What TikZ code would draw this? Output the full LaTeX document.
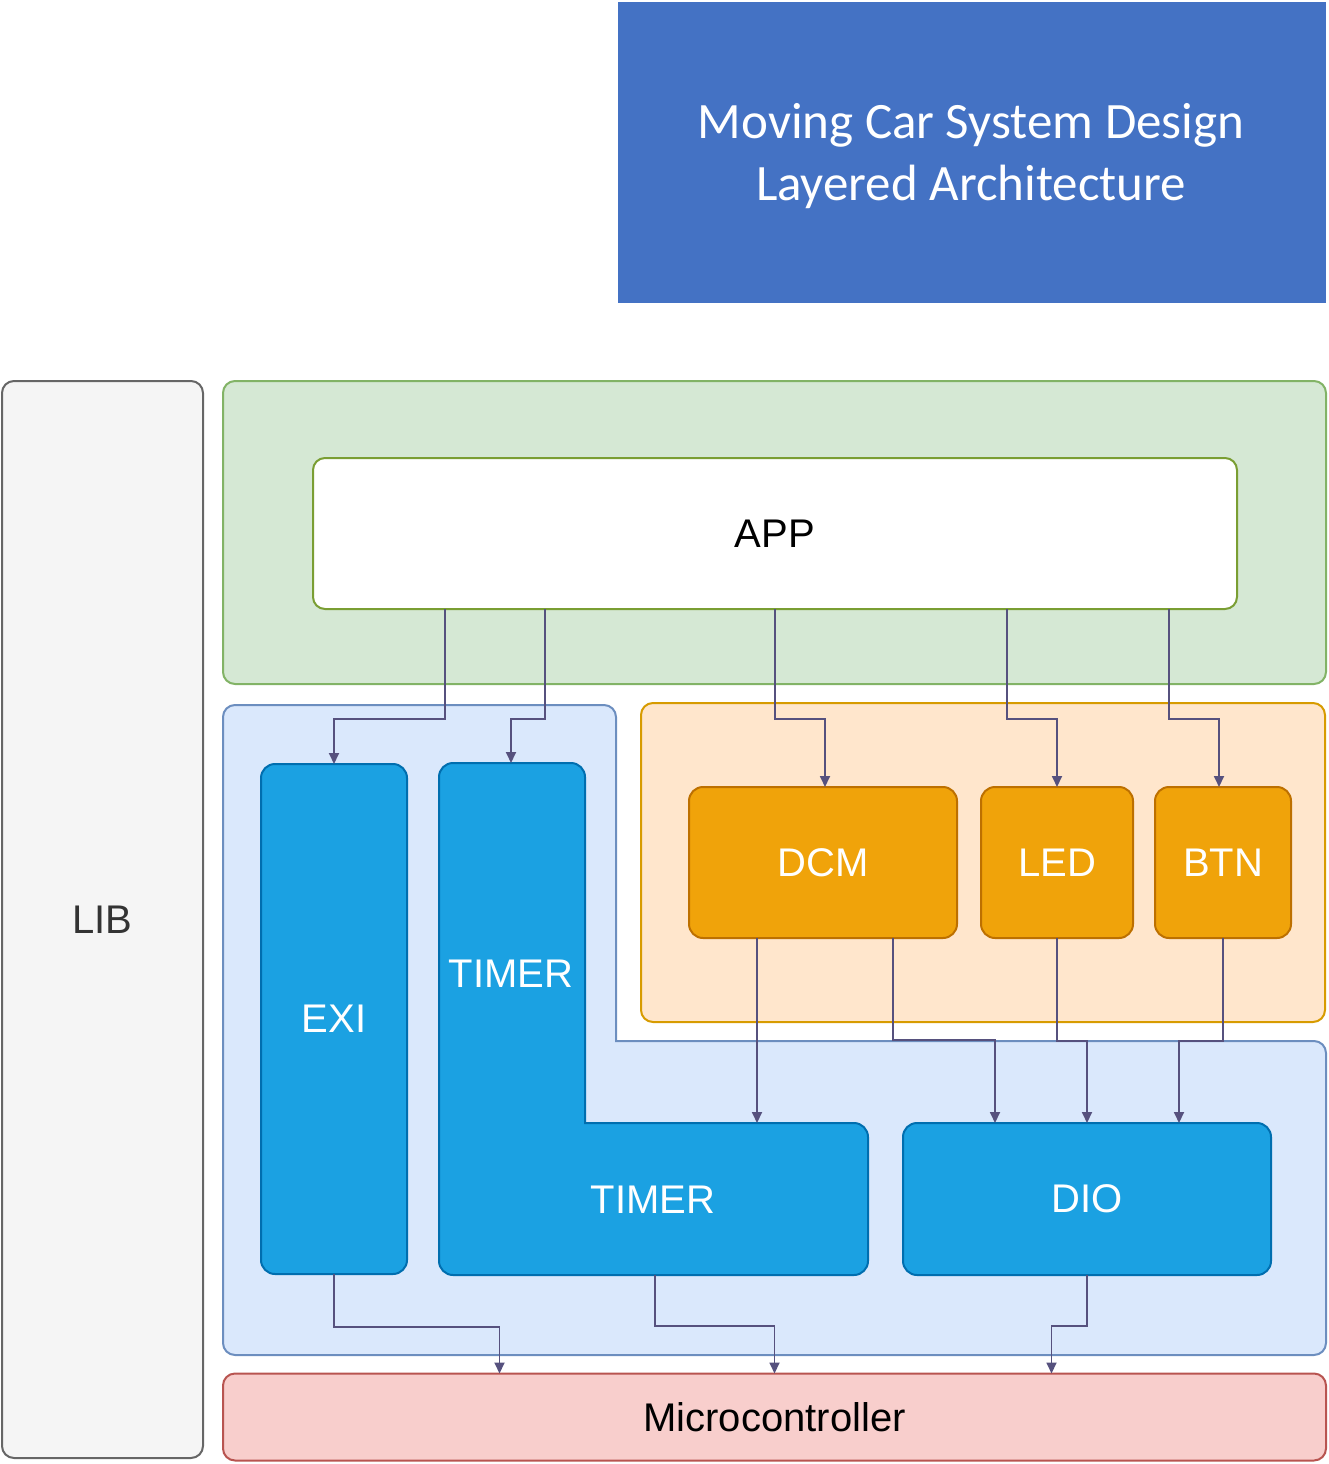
\documentclass[tikz,border=0pt]{standalone}
\usepackage{fontspec}
\setmainfont{Liberation Sans}
\newfontfamily\titlefont{Carlito}
\usetikzlibrary{arrows.meta}
\definecolor{titleblue}{HTML}{4472C4}
\definecolor{libfill}{HTML}{F5F5F5}
\definecolor{libline}{HTML}{666666}
\definecolor{libtext}{HTML}{333333}
\definecolor{grfill}{HTML}{D5E8D4}
\definecolor{grline}{HTML}{82B366}
\definecolor{appline}{HTML}{7A9E33}
\definecolor{blfill}{HTML}{DAE8FC}
\definecolor{blline}{HTML}{6C8EBF}
\definecolor{orfill}{HTML}{FFE6CC}
\definecolor{orline}{HTML}{D79B00}
\definecolor{modblue}{HTML}{1BA1E2}
\definecolor{modblueline}{HTML}{006EAF}
\definecolor{modor}{HTML}{F0A30A}
\definecolor{modorline}{HTML}{BD7000}
\definecolor{mcufill}{HTML}{F8CECC}
\definecolor{mculine}{HTML}{B85450}
\definecolor{arrowc}{HTML}{56517E}
\tikzset{
  base/.style={rectangle, inner sep=0pt, outer sep=0pt, line width=2pt, rounded corners=12pt,
    font=\fontsize{40}{48}\selectfont},
  bluemod/.style={base, fill=modblue, draw=modblueline, text=white, rounded corners=14pt},
  ormod/.style={base, fill=modor, draw=modorline, text=white, rounded corners=14pt},
  conn/.style={draw=arrowc, line width=1.8pt, -{Triangle[length=11pt,width=10pt]}},
}
\begin{document}
\begin{tikzpicture}[x=1pt,y=-1pt]
\useasboundingbox (0,0) rectangle (1328,1464);
% title
\node[rectangle, fill=titleblue, minimum width=708pt, minimum height=301pt, inner sep=0pt] (title) at (972,152.5) {};
\node[text=white, align=center, inner sep=0pt, font=\titlefont\fontsize{51}{62}\selectfont] (titletext) at (971,156)
  {Moving Car System Design\\Layered Architecture};
% LIB
\node[base, fill=libfill, draw=libline, text=libtext, minimum width=201pt, minimum height=1077pt] (lib) at (102.5,919.5) {LIB};
% green app layer
\node[base, fill=grfill, draw=grline, minimum width=1103pt, minimum height=303pt] (applayer) at (774.5,532.5) {};
\node[base, fill=white, draw=appline, minimum width=924pt, minimum height=151pt] (app) at (775,533.5) {APP};
% blue L-shaped layer
\path[fill=blfill, draw=blline, line width=2pt]
  (223,900) [rounded corners=12pt] -- (223,705) -- (616,705) -- (616,900) [sharp corners] -- (616,1041)
  [rounded corners=12pt] -- (1326,1041) -- (1326,1355) -- (223,1355) -- cycle;
% orange layer
\node[base, fill=orfill, draw=orline, minimum width=684pt, minimum height=319pt] (hal) at (983,862.5) {};
% modules
\node[bluemod, minimum width=146pt, minimum height=510pt] (exi) at (334,1019) {EXI};
\path[fill=modblue, draw=modblueline, line width=2pt]
  (439,1000) [rounded corners=14pt] -- (439,763) -- (585,763) -- (585,950) [sharp corners] -- (585,1123)
  [rounded corners=14pt] -- (868,1123) -- (868,1275) -- (439,1275) -- cycle;
\node[text=white, font=\fontsize{40}{48}\selectfont] (timerA) at (511,974) {TIMER};
\node[text=white, font=\fontsize{40}{48}\selectfont] (timerB) at (653,1200) {TIMER};
\coordinate (timerTop) at (511,763);
\coordinate (timerStep) at (757,1123);
\coordinate (timerBot) at (655,1275);
\node[bluemod, minimum width=368pt, minimum height=152pt] (dio) at (1087,1199) {DIO};
\node[ormod, minimum width=268pt, minimum height=151pt] (dcm) at (823,862.5) {DCM};
\node[ormod, minimum width=152pt, minimum height=151pt] (led) at (1057,862.5) {LED};
\node[ormod, minimum width=136pt, minimum height=151pt] (btn) at (1223,862.5) {BTN};
% microcontroller
\node[base, fill=mcufill, draw=mculine, minimum width=1103pt, minimum height=87pt] (mcu) at (774.5,1417) {Microcontroller};
% connectors
\draw[conn] ([xshift=-330pt]app.south) -- ++(0,110) -| (exi.north);
\draw[conn] ([xshift=-230pt]app.south) -- ++(0,110) -| (timerTop);
\draw[conn] (app.south) -- ++(0,110) -| ([xshift=2pt]dcm.north);
\draw[conn] ([xshift=232pt]app.south) -- ++(0,110) -| (led.north);
\draw[conn] ([xshift=394pt]app.south) -- ++(0,110) -| ([xshift=-4pt]btn.north);
\draw[conn] ([xshift=-66pt]dcm.south) -- (timerStep);
\draw[conn] ([xshift=70pt]dcm.south) -- ++(0,102) -| ([xshift=-92pt]dio.north);
\draw[conn] (led.south) -- ++(0,103) -| (dio.north);
\draw[conn] (btn.south) -- ++(0,103) -| ([xshift=92pt]dio.north);
\draw[conn] (exi.south) -- ++(0,53) -| ([xshift=-275pt]mcu.north);
\draw[conn] (timerBot) -- ++(0,51) -| (mcu.north);
\draw[conn] (dio.south) -- ++(0,51) -| ([xshift=277pt]mcu.north);
\end{tikzpicture}
\end{document}
